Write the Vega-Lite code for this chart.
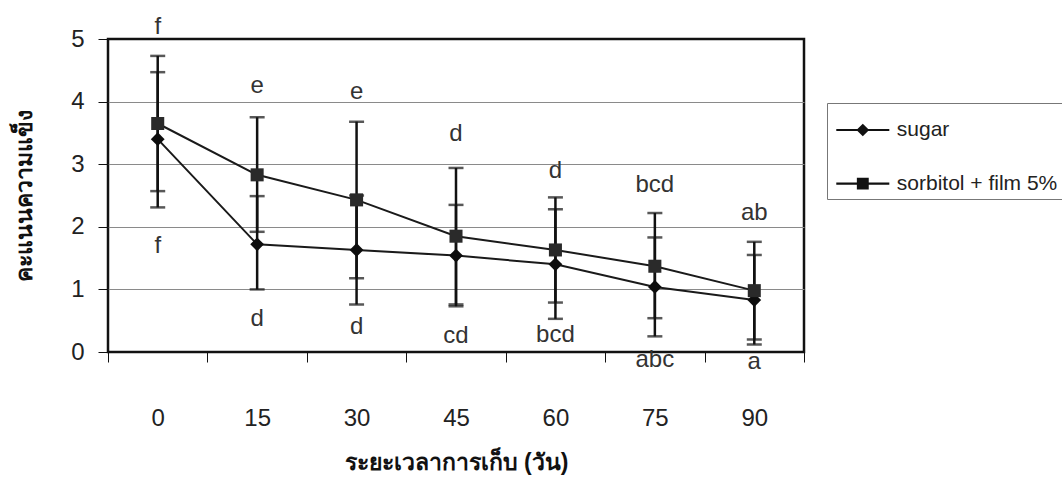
{
  "$schema": "https://vega.github.io/schema/vega-lite/v6.json",
  "width": 696,
  "height": 313,
  "autosize": {"type": "none"},
  "padding": {"left": 108, "top": 39, "right": 258, "bottom": 128},
  "background": "#ffffff",
  "config": {
    "view": {"stroke": "#111111", "strokeWidth": 2.5},
    "font": "Liberation Sans"
  },
  "datasets": {
    "series": [
      {"day": 0, "series": "sugar", "mean": 3.40, "lo": 2.31, "hi": 4.47},
      {"day": 15, "series": "sugar", "mean": 1.72, "lo": 1.00, "hi": 2.49},
      {"day": 30, "series": "sugar", "mean": 1.63, "lo": 0.76, "hi": 2.50},
      {"day": 45, "series": "sugar", "mean": 1.54, "lo": 0.73, "hi": 2.35},
      {"day": 60, "series": "sugar", "mean": 1.40, "lo": 0.53, "hi": 2.28},
      {"day": 75, "series": "sugar", "mean": 1.04, "lo": 0.25, "hi": 1.83},
      {"day": 90, "series": "sugar", "mean": 0.83, "lo": 0.12, "hi": 1.55},
      {"day": 0, "series": "sorbitol + film 5%", "mean": 3.65, "lo": 2.57, "hi": 4.73},
      {"day": 15, "series": "sorbitol + film 5%", "mean": 2.83, "lo": 1.92, "hi": 3.75},
      {"day": 30, "series": "sorbitol + film 5%", "mean": 2.43, "lo": 1.18, "hi": 3.68},
      {"day": 45, "series": "sorbitol + film 5%", "mean": 1.85, "lo": 0.76, "hi": 2.94},
      {"day": 60, "series": "sorbitol + film 5%", "mean": 1.63, "lo": 0.79, "hi": 2.47},
      {"day": 75, "series": "sorbitol + film 5%", "mean": 1.37, "lo": 0.54, "hi": 2.22},
      {"day": 90, "series": "sorbitol + film 5%", "mean": 0.98, "lo": 0.20, "hi": 1.76}
    ],
    "letters": [
      {"day": 0, "label": "f", "pos": 5.19},
      {"day": 15, "label": "e", "pos": 4.25},
      {"day": 30, "label": "e", "pos": 4.15},
      {"day": 45, "label": "d", "pos": 3.48},
      {"day": 60, "label": "d", "pos": 2.89},
      {"day": 75, "label": "bcd", "pos": 2.67},
      {"day": 90, "label": "ab", "pos": 2.22},
      {"day": 0, "label": "f", "pos": 1.70},
      {"day": 15, "label": "d", "pos": 0.52},
      {"day": 30, "label": "d", "pos": 0.40},
      {"day": 45, "label": "cd", "pos": 0.25},
      {"day": 60, "label": "bcd", "pos": 0.27},
      {"day": 75, "label": "abc", "pos": -0.13},
      {"day": 90, "label": "a", "pos": -0.16}
    ]
  },
  "encoding": {
    "x": {
      "field": "day",
      "type": "ordinal",
      "scale": {"type": "band", "paddingInner": 0, "paddingOuter": 0},
      "axis": {
        "title": "ระยะเวลาการเก็บ (วัน)",
        "titleFontSize": 23,
        "titleFontWeight": "bold",
        "titleColor": "#111111",
        "titlePadding": 21,
        "labelAngle": 0,
        "labelFontSize": 24,
        "labelColor": "#222222",
        "labelPadding": 44,
        "tickBand": "extent",
        "tickSize": 10,
        "tickColor": "#111111",
        "tickWidth": 1,
        "domain": false,
        "grid": false
      }
    }
  },
  "layer": [
    {
      "data": {"name": "series"},
      "mark": {"type": "rule", "color": "#111111", "strokeWidth": 2.5},
      "encoding": {
        "y": {
          "field": "lo",
          "type": "quantitative",
          "scale": {"domain": [0, 5], "nice": false, "zero": false},
          "axis": {
            "title": "คะแนนความแข็ง",
            "titleFontSize": 23,
            "titleFontWeight": "bold",
            "titleColor": "#111111",
            "titlePadding": 34,
            "values": [0, 1, 2, 3, 4, 5],
            "format": "d",
            "labelFontSize": 24,
            "labelColor": "#222222",
            "labelPadding": 14,
            "tickSize": 10,
            "tickColor": "#111111",
            "domain": false,
            "grid": true,
            "gridColor": "#8a8a8a",
            "gridWidth": 1,
            "gridOpacity": {"condition": {"test": "datum.value == 0 || datum.value == 5", "value": 0}, "value": 1}
          }
        },
        "y2": {"field": "hi"}
      }
    },
    {
      "data": {"name": "series"},
      "mark": {"type": "tick", "color": "#111111", "thickness": 2.5, "size": 15},
      "encoding": {"y": {"field": "lo", "type": "quantitative"}}
    },
    {
      "data": {"name": "series"},
      "mark": {"type": "tick", "color": "#111111", "thickness": 2.5, "size": 15},
      "encoding": {"y": {"field": "hi", "type": "quantitative"}}
    },
    {
      "data": {"name": "series"},
      "mark": {"type": "line", "color": "#1a1a1a", "strokeWidth": 2},
      "encoding": {
        "y": {"field": "mean", "type": "quantitative"},
        "detail": {"field": "series"}
      }
    },
    {
      "data": {"name": "series"},
      "transform": [{"filter": "datum.series === 'sugar'"}],
      "mark": {"type": "point", "shape": "diamond", "filled": true, "opacity": 1, "color": "#0d0d0d", "size": 190},
      "encoding": {
        "y": {"field": "mean", "type": "quantitative"}
      }
    },
    {
      "data": {"name": "series"},
      "transform": [{"filter": "datum.series !== 'sugar'"}],
      "mark": {"type": "point", "shape": "square", "filled": true, "opacity": 1, "color": "#2a2a2a", "size": 170},
      "encoding": {
        "y": {"field": "mean", "type": "quantitative"}
      }
    },
    {
      "data": {"name": "series"},
      "mark": {"type": "point", "filled": true, "opacity": 1, "color": "#111111", "size": 0},
      "encoding": {
        "y": {"field": "mean", "type": "quantitative"},
        "shape": {
          "field": "series",
          "type": "nominal",
          "scale": {
            "domain": ["sugar", "sorbitol + film 5%"],
            "range": ["M-1.25,-0.05H1.25V0.05H-1.25ZM0,-0.3L0.3,0L0,0.3L-0.3,0Z", "M-1.25,-0.05H1.25V0.05H-1.25ZM-0.28,-0.28H0.28V0.28H-0.28Z"]
          },
          "legend": {
            "orient": "none",
            "legendX": 719,
            "legendY": 64,
            "title": null,
            "padding": 5,
            "strokeColor": "#777777",
            "symbolSize": 1800,
            "symbolOffset": 8.8,
            "labelOffset": 12,
            "rowPadding": 21.6,
            "labelFontSize": 21,
            "labelLimit": 400,
            "labelColor": "#222222",
            "labelFont": "Liberation Sans",
            "symbolFillColor": "#111111",
            "symbolOpacity": 1
          }
        }
      }
    },
    {
      "data": {"name": "letters"},
      "mark": {"type": "text", "fontSize": 24, "font": "Liberation Sans", "color": "#333333", "align": "center", "baseline": "middle"},
      "encoding": {
        "y": {"field": "pos", "type": "quantitative"},
        "text": {"field": "label"}
      }
    }
  ]
}
